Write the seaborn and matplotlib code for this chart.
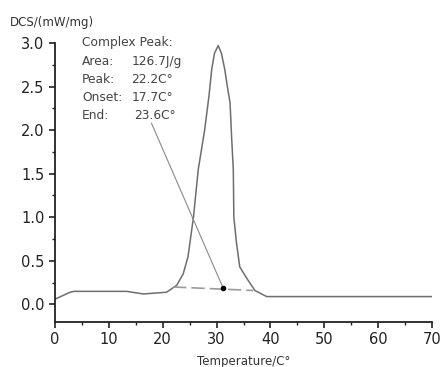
import matplotlib
matplotlib.use("Agg")
import matplotlib.pyplot as plt
from matplotlib.ticker import MultipleLocator
import seaborn as sns
import pandas as pd

# Data
temperature = [0, 2.8, 3.5, 13.3, 16.4, 20.7, 22.6, 23.8, 24.7, 25.7, 26.6, 27.8,
               28.6, 29.1, 29.6, 30.3, 30.9, 31.5, 32.0, 32.5, 32.8, 33.1, 33.2,
               33.7, 34.3, 35.6, 37.1, 39.3, 70]
dsc = [0.06, 0.14, 0.15, 0.15, 0.12, 0.14, 0.22, 0.35, 0.55, 1.00, 1.55, 2.01,
       2.40, 2.70, 2.88, 2.97, 2.88, 2.70, 2.50, 2.31, 1.90, 1.55, 1.00,
       0.70, 0.43, 0.30, 0.16, 0.09, 0.09]
baseline_t = [21.9, 36.8]
baseline_v = [0.20, 0.16]
marker_t = [31.2]
marker_v = [0.19]
leader_t = [17.9, 31.2]
leader_v = [2.08, 0.19]
ann_labels = ["Area:", "Peak:", "Onset:", "End:"]
ann_values = ["126.7J/g", "22.2C°", "17.7C°", "23.6C°"]
x_ticks = [0, 10, 20, 30, 40, 50, 60, 70]
y_ticks = [0.0, 0.5, 1.0, 1.5, 2.0, 2.5, 3.0]

sns.set_style("ticks")
plt.rcParams['font.family'] = ['DejaVu Sans']

fig = plt.figure(figsize=(4.4, 3.67), dpi=100)
ax = fig.add_axes([0.125, 0.123, 0.857, 0.760])

df = pd.DataFrame({"T": temperature, "DSC": dsc})
sns.lineplot(data=df, x="T", y="DSC", ax=ax, color="#6e6e6e", linewidth=1.1, sort=False)
ax.plot(baseline_t, baseline_v, color="#9a9a9a", linewidth=1.2, linestyle=(0, (8, 3)))
ax.plot(leader_t, leader_v, color="#8a8a8a", linewidth=0.8)
ax.plot(marker_t, marker_v, marker="o", color="black", markersize=3, linestyle="none")

ax.set_xlim(0, 70)
ax.set_ylim(-0.2, 3.0)
ax.set_xticks(x_ticks)
ax.set_yticks(y_ticks)
ax.set_yticklabels([f"{v:.1f}" for v in y_ticks])
ax.xaxis.set_minor_locator(MultipleLocator(5))
ax.yaxis.set_minor_locator(MultipleLocator(0.25))
sns.despine(ax=ax)
for s in ["left", "bottom"]:
    ax.spines[s].set_linewidth(1.3)
    ax.spines[s].set_color("#222222")
ax.tick_params(axis="both", which="major", length=4, width=1.2, labelsize=10.5,
               colors="#222222", direction="out")
ax.tick_params(axis="both", which="minor", length=2.5, width=1.0, colors="#222222")
ax.set_xlabel("")
ax.set_ylabel("")

fig.text(0.022, 0.94, "DCS/(mW/mg)", fontsize=8.5, color="#333333", va="center", ha="left")
fig.text(0.553, 0.016, "Temperature/C°", fontsize=8.5, color="#333333", va="center", ha="center")

txt_color = "#444444"
ax.text(5.0, 3.0, "Complex Peak:", fontsize=8.8, color=txt_color, va="center", clip_on=False)
for i, (lab, val) in enumerate(zip(ann_labels, ann_values)):
    y = 2.79 - i * 0.207
    ax.text(5.0, y, lab, fontsize=8.8, color=txt_color, va="center")
    ax.text(14.2 if i < 3 else 14.6, y, val, fontsize=8.8, color=txt_color, va="center")

fig.savefig("out.png", dpi=100, facecolor="white")
